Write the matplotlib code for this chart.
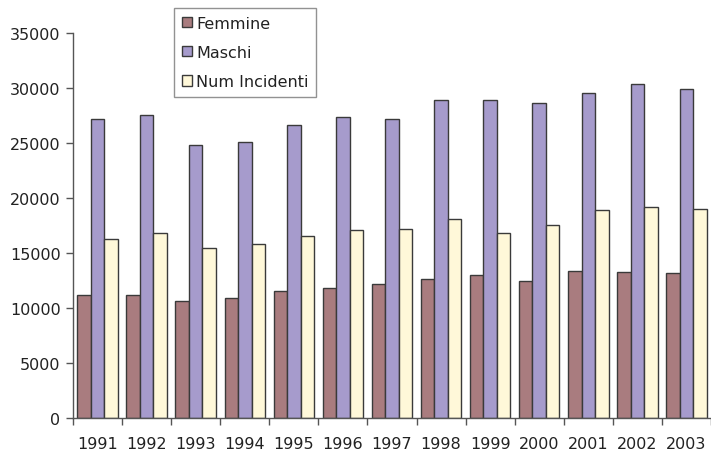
import matplotlib
matplotlib.use("Agg")
import matplotlib.pyplot as plt
import numpy as np

years = ["1991", "1992", "1993", "1994", "1995", "1996", "1997",
         "1998", "1999", "2000", "2001", "2002", "2003"]
femmine = [11130, 11130, 10650, 10900, 11550, 11800, 12200,
           12600, 12980, 12460, 13370, 13250, 13130]
maschi = [27160, 27560, 24800, 25050, 26600, 27300, 27200,
          28860, 28860, 28600, 29500, 30300, 29900]
incidenti = [16240, 16790, 15460, 15850, 16550, 17060, 17150,
             18090, 16790, 17570, 18900, 19170, 19030]
series_names = ["Femmine", "Maschi", "Num Incidenti"]
colors = ["#A97C7F", "#A69BCC", "#FFF8D9"]

plt.rcParams['font.family'] = ['DejaVu Sans']

W, H = 711, 452
fig = plt.figure(figsize=(W / 100, H / 100), dpi=100)
left, right, top, bottom = 73, 711, 33.7, 419
ax = fig.add_axes([left / W, 1 - bottom / H, (right - left) / W, (bottom - top) / H])

x = np.arange(len(years))
w = 0.275
edge = "#3a3a3a"
handles = []
for i, (vals, c, name) in enumerate(zip([femmine, maschi, incidenti], colors, series_names)):
    b = ax.bar(x + (i - 1) * w, vals, width=w, color=c, edgecolor=edge,
               linewidth=1.0, label=name, zorder=2)
    handles.append(b)

ax.set_xlim(-0.5, len(years) - 0.5)
ax.set_ylim(0, 35000)
ax.set_yticks(np.arange(0, 35001, 5000))
ax.set_xticks(x)
ax.set_xticklabels(years)
ax.set_xticks(np.arange(-0.5, len(years) - 0.4, 1), minor=True)
ax.tick_params(axis='x', which='major', length=0, pad=13, labelsize=11.5, colors='#222222')
ax.tick_params(axis='x', which='minor', length=5, width=1, color='#555555', direction='out')
ax.tick_params(axis='y', length=5, width=1, color='#555555', direction='out', labelsize=11.5,
               labelcolor='#222222', pad=4)
for s in ['top', 'right']:
    ax.spines[s].set_visible(False)
for s in ['left', 'bottom']:
    ax.spines[s].set_color('#555555')
    ax.spines[s].set_linewidth(1)

lx0, lx1, ly0, ly1 = 174, 316, 9, 101
leg = fig.legend(handles=handles, labels=series_names,
                 loc='upper left',
                 bbox_to_anchor=(lx0 / W, 1 - ly1 / H, (lx1 - lx0) / W, (ly1 - ly0) / H),
                 mode='expand', fontsize=11.5, frameon=True, fancybox=False,
                 handlelength=0.6, handleheight=0.6, handletextpad=0.3,
                 labelspacing=0.88, borderpad=0.5, borderaxespad=0)
leg.get_frame().set_edgecolor('#777777')
leg.get_frame().set_linewidth(1)
for t in leg.get_texts():
    t.set_color('#222222')

fig.savefig("out.png", dpi=100)
